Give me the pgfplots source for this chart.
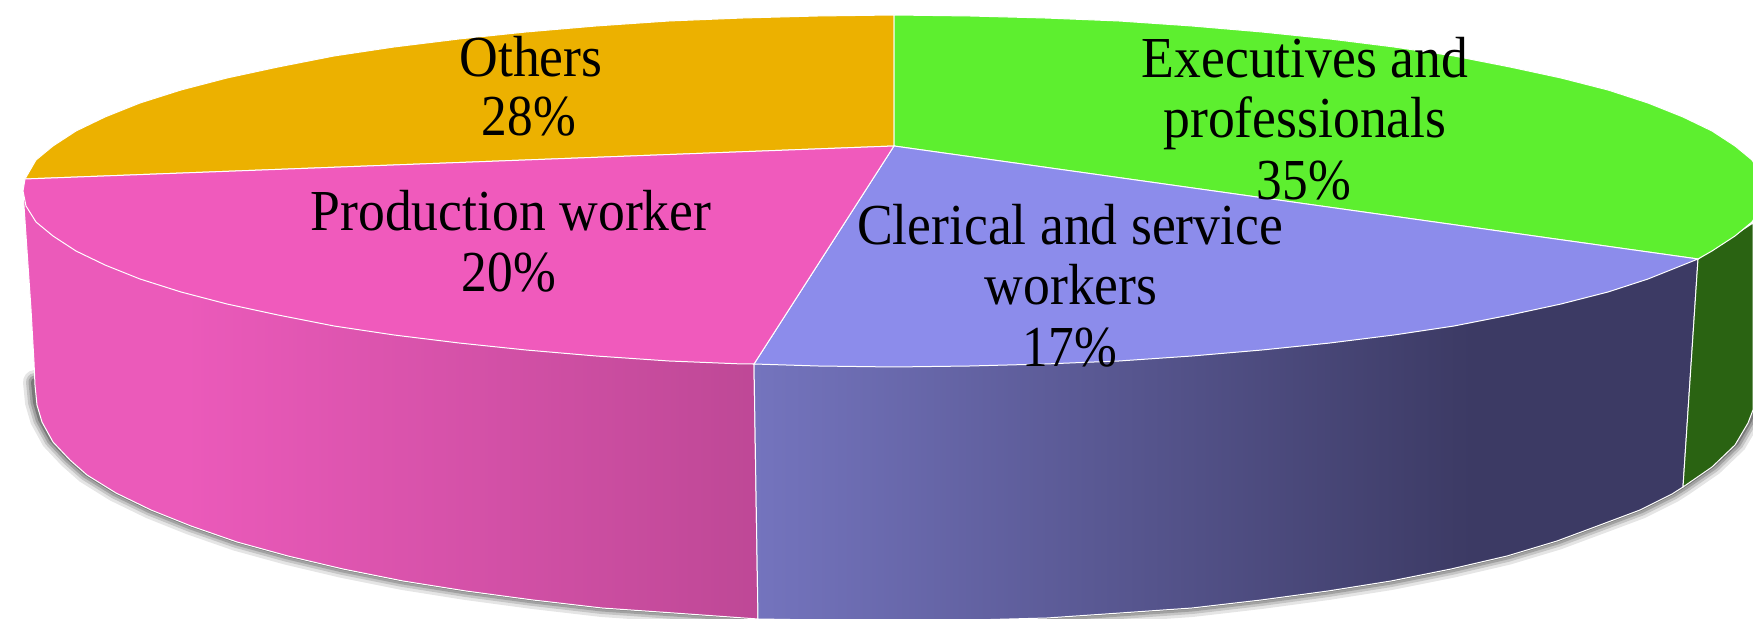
\documentclass[border=0pt]{standalone}
\usepackage{fontspec}
\setmainfont{Liberation Serif}
\usepackage{pgfplots}
\pgfplotsset{compat=1.18}

\definecolor{others}{HTML}{ECB100}
\definecolor{execs}{HTML}{5DEF2F}
\definecolor{clerical}{HTML}{8C8CEB}
\definecolor{prod}{HTML}{F05ABC}
\definecolor{prodstart}{HTML}{EB5ABA}
\definecolor{execsside}{HTML}{2A6312}
\definecolor{prodend}{HTML}{BE4896}
\definecolor{clerstart}{HTML}{7474BE}
\definecolor{clerend}{HTML}{3C3A64}

% the path's box spans 25bp..75bp of a shading
\pgfdeclarehorizontalshading{prodside}{100bp}{color(0bp)=(prodstart); color(36bp)=(prodstart); color(75bp)=(prodend); color(100bp)=(prodend)}
\pgfdeclarehorizontalshading{clerside}{100bp}{color(0bp)=(clerstart); color(25bp)=(clerstart); color(63bp)=(clerend); color(100bp)=(clerend)}

% rim pieces
\def\rimprod{(35,385) (37,405) (42,422) (53,442) (70,460) (87,475) (116,493) (151,510) (191,526) (237,542)
  (288,556) (343,569) (403,581) (466,591) (533,600) (602,608) (674,613) (758,619)}
\def\rimcler{(758,619) (822,620) (897,621) (972,620) (1047,618) (1120,613) (1192,608) (1261,600)
  (1328,591) (1391,581) (1451,569) (1507,556) (1557,541) (1600,525) (1640,510) (1672,494) (1683,487)}
\def\rimexec{(1683,487) (1712,467) (1735,445) (1748,423) (1753,410)}
\def\edgefront{(754,364) (818,366) (894,367) (970,366) (1045,364) (1119,361) (1192,356) (1262,350)
  (1330,343) (1394,335) (1454,326) (1510,315) (1561,304) (1608,292) (1648,279) (1683,265) (1698,259)}
\def\edgeprod{(743,364) (669,361) (596,356) (526,350) (459,343) (394,335) (334,326) (278,315)
  (227,304) (181,292) (140,279) (105,265) (76,251) (53,236) (36,222) (26,206) (23,191) (25,179)}

\newcommand{\lab}[3]{\node[anchor=base,inner sep=0pt,xscale=0.925,
  font=\fontsize{29}{30}\selectfont] at (axis cs:#1,#2) {#3};}
\newcommand{\pct}[3]{\node[anchor=base,inner sep=0pt,xscale=0.885,
  font=\fontsize{29}{30}\selectfont] at (axis cs:#1,#2) {#3};}

\begin{document}
\begin{tikzpicture}
\begin{axis}[
    scale only axis,
    width=876.5pt,
    height=309.5pt,
    xmin=0, xmax=1753,
    ymin=0, ymax=619,
    y dir=reverse,
    hide axis,
]
% shadow
\addplot[draw=black, opacity=0.10, line width=12pt, line cap=round, yshift=1.5pt] coordinates {\rimprod \rimcler \rimexec};
\addplot[draw=black, opacity=0.14, line width=9pt, line cap=round, yshift=1.5pt] coordinates {\rimprod \rimcler \rimexec};
\addplot[draw=black, opacity=0.18, line width=6.5pt, line cap=round, yshift=1.5pt] coordinates {\rimprod \rimcler \rimexec};
\addplot[draw=black, opacity=0.25, line width=4pt, line cap=round, yshift=1.5pt] coordinates {\rimprod \rimcler \rimexec};

% sides
\addplot[draw=white, line width=0.5pt, shade, shading=prodside] coordinates {
  (23,191) (31,309) (34,362) \rimprod (754,364)} --cycle;
\addplot[draw=white, line width=0.5pt, shade, shading=clerside] coordinates {
  \rimcler (1698,259) (754,364)} --cycle;
\addplot[draw=white, line width=0.5pt, fill=execsside] coordinates {
  \rimexec (1753,223) (1698,259)} --cycle;

% top
\addplot[draw=white, line width=0.5pt, fill=others] coordinates {
  (894,146) (25,179) (36,160) (53,146) (76,131) (105,117) (140,103) (181,90) (227,78) (278,67)
  (334,56) (394,47) (459,39) (526,32) (596,26) (669,21) (743,18) (818,16) (894,15)} --cycle;
\addplot[draw=white, line width=0.5pt, fill=execs] coordinates {
  (894,146) (894,15) (970,16) (1045,18) (1119,21) (1192,26) (1262,32) (1330,39) (1394,47) (1454,56)
  (1510,67) (1561,78) (1608,90) (1648,103) (1683,117) (1712,131) (1735,146) (1752,160)
  (1762,176) (1765,191) (1762,206) (1752,222) (1735,236) (1712,251) (1698,259)} --cycle;
\addplot[draw=white, line width=0.5pt, fill=clerical] coordinates {
  (894,146) \edgefront} --cycle;
\addplot[draw=white, line width=0.5pt, fill=prod] coordinates {
  (894,146) (754,364) \edgeprod} --cycle;

% labels
\lab{531}{77}{Others}
\pct{529}{136}{28\%}
\lab{511}{231}{Production worker}
\pct{509}{292}{20\%}
\lab{1305}{78}{Executives and}
\lab{1305}{138}{professionals}
\pct{1304}{200}{35\%}
\lab{1070}{245}{Clerical and service}
\lab{1071}{305}{workers}
\pct{1070}{367}{17\%}
\end{axis}
\pgfresetboundingbox
\path[use as bounding box] (0,0) rectangle (876.5pt,309.5pt);
\end{tikzpicture}
\end{document}
